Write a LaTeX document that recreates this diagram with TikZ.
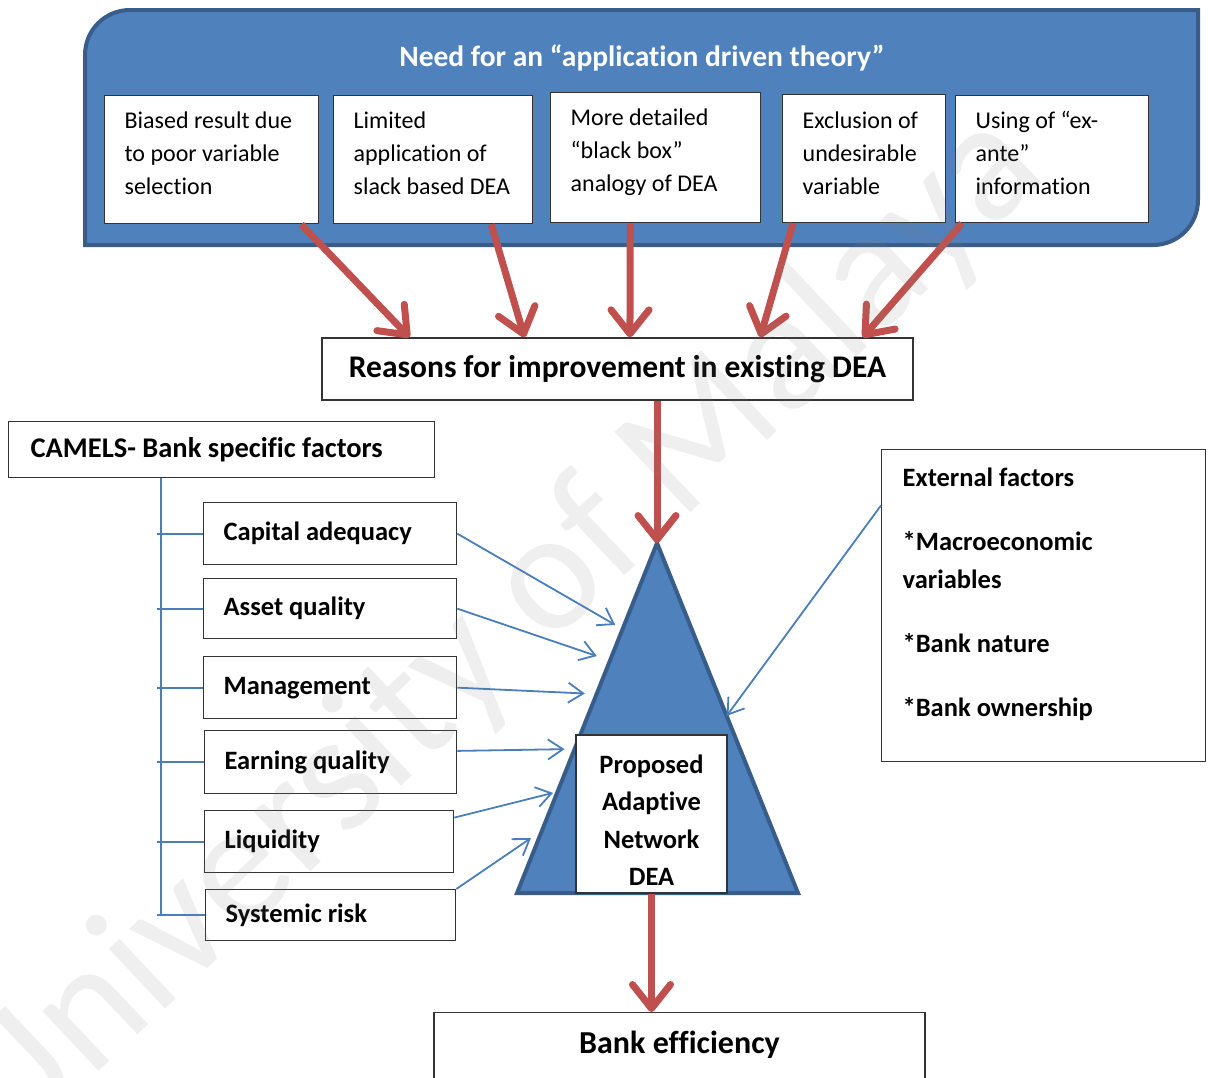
\documentclass[tikz,border=0pt]{standalone}
\usepackage{fontspec}
\setmainfont{Carlito}[Ligatures=CommonOff]
\usetikzlibrary{arrows.meta, calc}
\definecolor{bannerblue}{HTML}{4F81BD}
\definecolor{bannerline}{HTML}{385D8A}
\definecolor{arrowred}{HTML}{C0504D}
\definecolor{linkblue}{HTML}{4A7EBB}

\begin{document}
\begin{tikzpicture}[x=1pt, y=-1pt,
  box/.style={draw=black!80, line width=1.3pt, fill=white, inner sep=0pt},
  gapbox/.style={box, anchor=north west, align=flush left, inner xsep=20pt, text height=33pt, font=\fontsize{24}{33}\selectfont},
  factor/.style={box, anchor=north west, align=flush left, inner xsep=20pt, font=\bfseries\fontsize{26.5}{33}\selectfont},
  redarrow/.style={arrowred, line width=7pt, -{Straight Barb[length=24pt,width=38pt,round]}},
  bluearrow/.style={linkblue, line width=1.8pt, -{Straight Barb[length=15pt,width=20pt]}},
  treeline/.style={linkblue, line width=1.8pt}]

\useasboundingbox (0,0) rectangle (1208,1077);

% Top banner with the five gaps
\filldraw[fill=bannerblue, draw=bannerline, line width=4pt]
  (85,245) -- (85,55) .. controls (85,30) and (105,10) .. (130,10) -- (1198,10)
  -- (1198,200) .. controls (1198,225) and (1178,245) .. (1153,245) -- cycle;
\node[font=\bfseries\fontsize{29.5}{35}\selectfont, text=white] (need) at (642,58) {Need for an “application driven theory”};

\node[gapbox, text width=174pt, text depth=95pt] (gap1) at (104,95) {Biased result due\\to poor variable\\selection};
\node[gapbox, text width=159pt, text depth=95pt] (gap2) at (333,95) {Limited\\application of\\slack~based~DEA};
\node[gapbox, text width=170pt, text depth=97pt] (gap3) at (550,92) {More detailed\\“black box”\\analogy of DEA};
\node[gapbox, text width=123pt, text height=34pt, text depth=94pt] (gap4) at (782,94) {Exclusion~of\\undesirable\\variable};
\node[gapbox, text width=153pt, text depth=94pt] (gap5) at (955,95) {Using of “ex-\\ante”\\information};

% Reasons box
\node[box, minimum width=591pt, minimum height=62pt, font=\bfseries\fontsize{31.5}{38}\selectfont] (reasons) at (617.5,369) {Reasons for improvement in existing DEA};

\foreach \g/\s/\e in {gap1/0.916/0.149, gap2/0.79/0.343, gap3/0.38/0.521, gap4/0.067/0.741, gap5/0.036/0.914}
  \draw[redarrow] ($(\g.south west)!\s!(\g.south east)$) -- ($(reasons.north west)!\e!(reasons.north east)$);

% CAMELS tree
\node[box, anchor=north west, align=flush left, inner xsep=22pt, text width=382pt, minimum height=56pt, font=\bfseries\fontsize{28.5}{35}\selectfont] (camels) at (8,421) {CAMELS- Bank specific factors};

\node[factor, text width=213pt, minimum height=62pt] (cap) at (203,502) {Capital adequacy};
\node[factor, text width=213pt, minimum height=60pt] (asset) at (203,578) {Asset quality};
\node[factor, text width=213pt, minimum height=62pt] (mgmt) at (203,656) {Management};
\node[factor, text width=212pt, minimum height=63pt] (earn) at (204,730) {Earning quality};
\node[factor, text width=209pt, minimum height=62pt] (liq) at (204,810) {Liquidity};
\node[factor, text width=210pt, minimum height=51pt] (risk) at (205,889) {Systemic risk};

\coordinate (trunk) at (161,0);
\draw[treeline] (camels.south -| trunk) -- (risk.west -| trunk);
\foreach \f in {cap,asset,mgmt,earn,liq,risk}
  \draw[treeline] ($(\f.west -| trunk)+(-4,0)$) -- (\f.west);

% Model triangle
\coordinate (apex) at (657,543);
\coordinate (baseL) at (517,893);
\coordinate (baseR) at (798,893);
\filldraw[fill=bannerblue, draw=bannerline, line width=4pt] (apex) -- (baseR) -- (baseL) -- cycle;

\node[box, align=center, text width=151pt, text height=38pt, text depth=120pt, font=\bfseries\fontsize{26.5}{37.5}\selectfont] (dea) at (651.5,814) {Proposed\\Adaptive\\Network\\DEA};

\draw[redarrow] (reasons.south -| apex) -- (apex);

% External factors
\node[box, anchor=north west, align=flush left, inner xsep=21pt, text width=282pt, text height=36.5pt, text depth=275.5pt, font=\bfseries\fontsize{26.5}{38}\selectfont] (ext) at (881,449) {External factors\\[26pt]*Macroeconomic\\variables\\[26pt]*Bank nature\\[26pt]*Bank ownership};

% Inputs into the model
\draw[bluearrow] (cap.east) -- ($(apex)!0.234!(baseL)+(-9,0)$);
\draw[bluearrow] (asset.east) -- ($(apex)!0.323!(baseL)+(-15,0)$);
\draw[bluearrow] (mgmt.east) -- ($(apex)!0.43!(baseL)+(-12,0)$);
\draw[bluearrow] ($(earn.east)!0.35!(earn.north east)$) -- ($(apex)!0.589!(baseL)+(-10,0)$);
\draw[bluearrow] ($(liq.north east)!0.12!(liq.south east)$) -- ($(apex)!0.714!(baseL)+(-4,0)$);
\draw[bluearrow] (risk.north east) -- ($(apex)!0.843!(baseL)+(-8,0)$);
\draw[bluearrow] ($(ext.north west)!0.18!(ext.south west)$) -- ($(apex)!0.494!(baseR)$);

% Outcome
\node[box, anchor=north, minimum width=491pt, inner ysep=17pt, text height=24pt, text depth=40pt, font=\bfseries\fontsize{32}{38}\selectfont] (bank) at (679.5,1012) {Bank efficiency};
\draw[redarrow] (dea.south) -- (dea.south |- bank.north);

% Watermark
\node[rotate=43.3, text=gray, opacity=0.13, font=\fontsize{172}{172}\selectfont] (stamp) at (498,632) {University of Malaya};

\end{tikzpicture}
\end{document}
